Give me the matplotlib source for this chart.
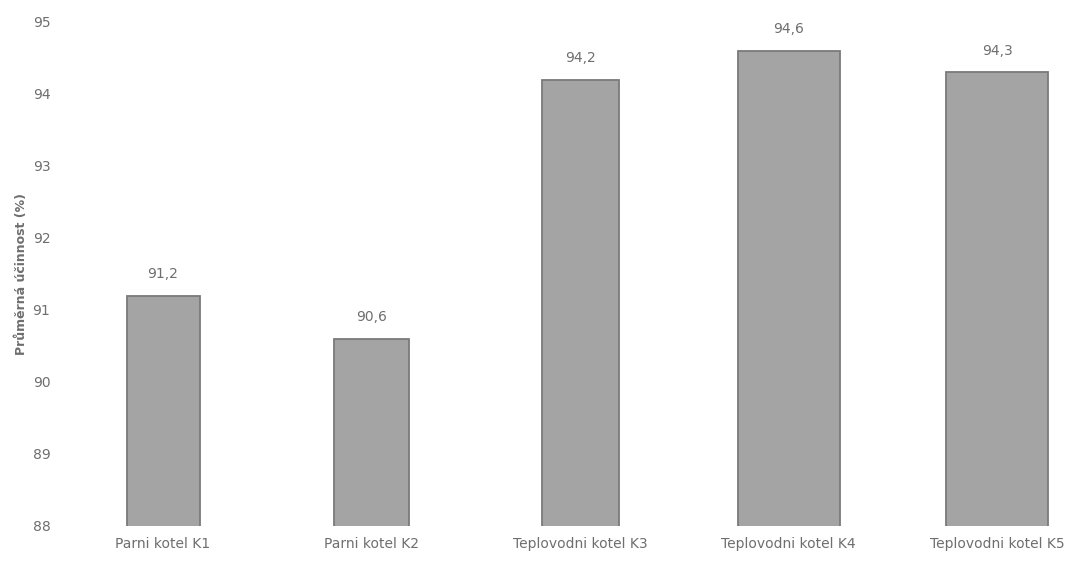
import numpy as np
import matplotlib
matplotlib.use("Agg")
import matplotlib.pyplot as plt

# prumerna ucinnost kotlu
kotle = ["Parni kotel K1", "Parni kotel K2", "Teplovodni kotel K3",
         "Teplovodni kotel K4", "Teplovodni kotel K5"]
ucinnost = [91.2, 90.6, 94.2, 94.6, 94.3]
y_ticks = [88, 89, 90, 91, 92, 93, 94, 95]

sirky = [0.35, 0.36, 0.37, 0.49, 0.49]
text_barva = "#6e6e6e"

fig = plt.figure(figsize=(10.78, 5.64), dpi=100)
ax = fig.add_axes([0.0557, 0.0674, 0.9416, 0.8936])

x = np.arange(len(kotle))
bars = ax.bar(x, ucinnost, width=sirky, color="#a4a4a4",
              edgecolor="#7a7a7a", linewidth=1.3)

for b, v in zip(bars, ucinnost):
    ax.text(b.get_x() + b.get_width() / 2, v + 0.2,
            ("%.1f" % v).replace(".", ","), ha="center", va="bottom",
            fontsize=10, color=text_barva)

ax.set_ylim(88, 95)
ax.set_xlim(-0.494, 4.374)
ax.set_yticks(y_ticks)
ax.set_yticklabels([str(t) for t in y_ticks], fontsize=10, color=text_barva)
ax.set_xticks(x)
ax.set_xticklabels(kotle, fontsize=10, color=text_barva)
ax.tick_params(axis="both", length=0)
ax.tick_params(axis="y", pad=7)
ax.tick_params(axis="x", pad=8)

for s in ax.spines.values():
    s.set_visible(False)

ax.set_ylabel("Průměrná účinnost (%)", fontsize=9, fontweight="bold",
              color=text_barva, labelpad=3)

fig.savefig("out.png", dpi=100)
